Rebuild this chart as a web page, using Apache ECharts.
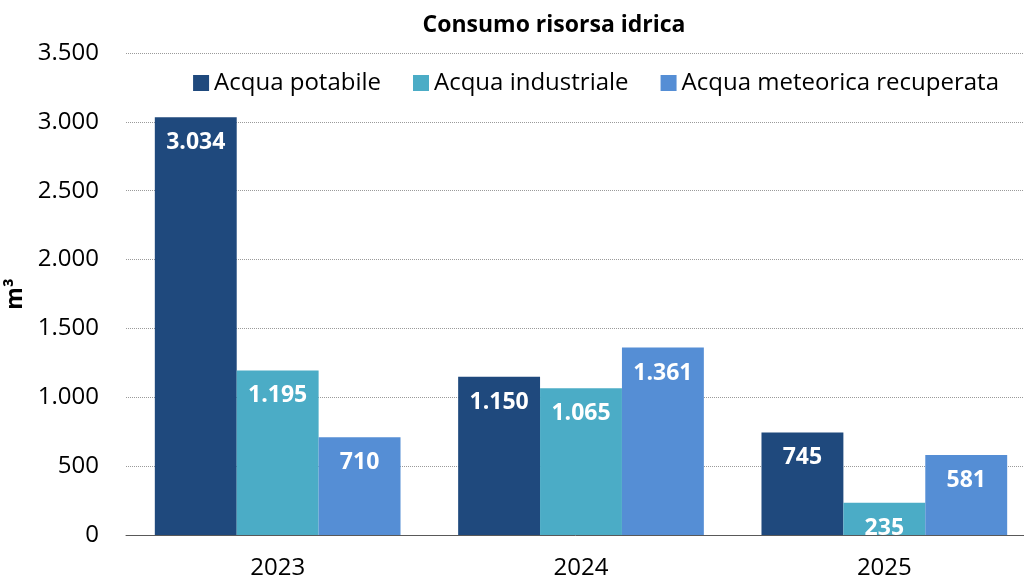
<!DOCTYPE html>
<html><head><meta charset="utf-8">
<script src="https://cdn.jsdelivr.net/npm/echarts@6/dist/echarts.min.js"></script>
<style>html,body{margin:0;padding:0;background:#fff}#c{width:1024px;height:579px}</style>
</head><body><div id="c"></div>
<script>
const categories = ['2023', '2024', '2025'];
const seriesNames = ['Acqua potabile', 'Acqua industriale', 'Acqua meteorica recuperata'];
const potabile = [3034, 1150, 745];
const industriale = [1195, 1065, 235];
const meteorica = [710, 1361, 581];
const colors = ['#1F497D', '#4BACC6', '#558ED5'];

const fmt = v => String(v).replace(/\B(?=(\d{3})+(?!\d))/g, '.');
const FONT = 'Open Sans';
const chart = echarts.init(document.getElementById('c'));
const mk = (name, data, color) => ({
  name, type: 'bar', data, barGap: 0, barCategoryGap: '19%',
  itemStyle: { color },
  label: { show: true, position: 'insideTop', distance: 14, color: '#fff', fontWeight: 'bold',
    fontSize: 23, fontFamily: FONT, formatter: p => fmt(p.value) }
});
chart.setOption({
  animation: false,
  textStyle: { fontFamily: FONT },
  title: { text: 'Consumo risorsa idrica', left: 549, top: 9, textAlign: 'center',
    textStyle: { fontSize: 23, fontWeight: 'bold', color: '#000', fontFamily: FONT } },
  legend: { top: 66, right: 20, itemWidth: 16, itemHeight: 16, itemGap: 32,
    icon: 'rect', textStyle: { fontSize: 24, color: '#000', fontFamily: FONT, padding: [0, 0, 0, 0] },
    data: seriesNames },
  grid: { left: 126, top: 53, width: 910, height: 482, outerBoundsMode: 'none', containLabel: false },
  xAxis: { type: 'category', data: categories,
    axisLine: { lineStyle: { color: '#595959', width: 1 } }, axisTick: { show: false },
    axisLabel: { fontSize: 24, color: '#000', margin: 21, fontFamily: FONT } },
  yAxis: { type: 'value', min: 0, max: 3500, interval: 500,
    name: 'm³', nameLocation: 'middle', nameGap: 92, nameRotate: 90,
    nameTextStyle: { fontSize: 23, fontWeight: 'bold', color: '#000', fontFamily: FONT },
    axisLine: { show: false }, axisTick: { show: false },
    axisLabel: { fontSize: 24, color: '#000', margin: 27, formatter: fmt, fontFamily: FONT },
    splitLine: { lineStyle: { color: '#9a9a9a', type: [1, 1], width: 1 } } },
  series: [mk(seriesNames[0], potabile, colors[0]), mk(seriesNames[1], industriale, colors[1]),
    Object.assign(mk(seriesNames[2], meteorica, colors[2]))]
});
</script></body></html>
